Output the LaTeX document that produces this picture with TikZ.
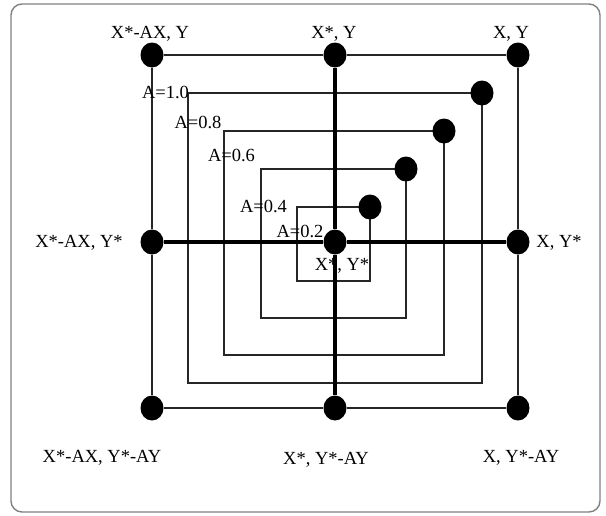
\documentclass[tikz,border=0pt]{standalone}
\usepackage{fontspec}
\setmainfont{Liberation Serif}
\usetikzlibrary{shapes.geometric}
\tikzset{
  dot/.style={ellipse, fill=black, draw=none, minimum width=23pt, minimum height=25pt, inner sep=0pt},
  outerline/.style={draw=black!85, line width=2.3pt},
  crossline/.style={draw=black, line width=3.3pt},
  sqline/.style={draw=black!85, line width=2pt},
  lbl/.style={anchor=base, inner sep=0pt, font=\fontsize{18.5}{20}\selectfont},
  frame/.style={draw=black!50, line width=1.4pt, rounded corners=11pt}
}
\begin{document}
\begin{tikzpicture}[x=1pt, y=-1pt]
\useasboundingbox (0,0) rectangle (606,515);
\draw[frame] (11,4) rectangle (600,512);

% corners of the nested squares
\coordinate (A1) at (188,93);  \coordinate (B1) at (188,383); \coordinate (E1) at (482,383);
\coordinate (A2) at (224,131); \coordinate (B2) at (224,355); \coordinate (E2) at (444,355);
\coordinate (A3) at (261,169); \coordinate (B3) at (261,318); \coordinate (E3) at (406,318);
\coordinate (A4) at (297,207); \coordinate (B4) at (297,281); \coordinate (E4) at (370,281);

% nested squares (drawn first, under the dots)
\draw[sqline] (482,93) -- (A1) -- (B1) -- (E1) -- (482,93);
\draw[sqline] (444,131) -- (A2) -- (B2) -- (E2) -- (444,131);
\draw[sqline] (406,169) -- (A3) -- (B3) -- (E3) -- (406,169);
\draw[sqline] (370,207) -- (A4) -- (B4) -- (E4) -- (370,207);

% dots (nodes)
\node[dot] (TL) at (152,55) {};
\node[dot] (TM) at (335,55) {};
\node[dot] (TR) at (518,55) {};
\node[dot] (ML) at (152,242) {};
\node[dot] (C)  at (335,242) {};
\node[dot] (MR) at (518,242) {};
\node[dot] (BL) at (152,408) {};
\node[dot] (BM) at (335,408) {};
\node[dot] (BR) at (518,408) {};
\node[dot] (D1) at (482,93) {};
\node[dot] (D2) at (444,131) {};
\node[dot] (D3) at (406,169) {};
\node[dot] (D4) at (370,207) {};

% outer square
\draw[outerline] (TL) -- (TM) -- (TR);
\draw[outerline] (BL) -- (BM) -- (BR);
\draw[outerline] (TL) -- (ML) -- (BL);
\draw[outerline] (TR) -- (MR) -- (BR);
% cross
\draw[crossline] (ML) -- (C) -- (MR);
\draw[crossline] (TM) -- (C) -- (BM);

% labels
\node[lbl] (lTL) at (150,38) {X*-AX, Y};
\node[lbl] (lTM) at (334,38) {X*, Y};
\node[lbl] (lTR) at (511,38) {X, Y};
\node[lbl] (lML) at (79,247) {X*-AX, Y*};
\node[lbl] (lMR) at (559,247) {X, Y*};
\node[lbl] (lBL) at (102,462) {X*-AX, Y*-AY};
\node[lbl] (lBM) at (326,464) {X*, Y*-AY};
\node[lbl] (lBR) at (521,462) {X, Y*-AY};
\node[lbl] (l10) at (165.5,98) {A=1.0};
\node[lbl] (l08) at (198,128) {A=0.8};
\node[lbl] (l06) at (231.5,161) {A=0.6};
\node[lbl] (l04) at (263.5,212) {A=0.4};
\node[lbl] (l02) at (300,237) {A=0.2};
\node[lbl] (lC)  at (342,270) {X*, Y*};
\end{tikzpicture}
\end{document}
